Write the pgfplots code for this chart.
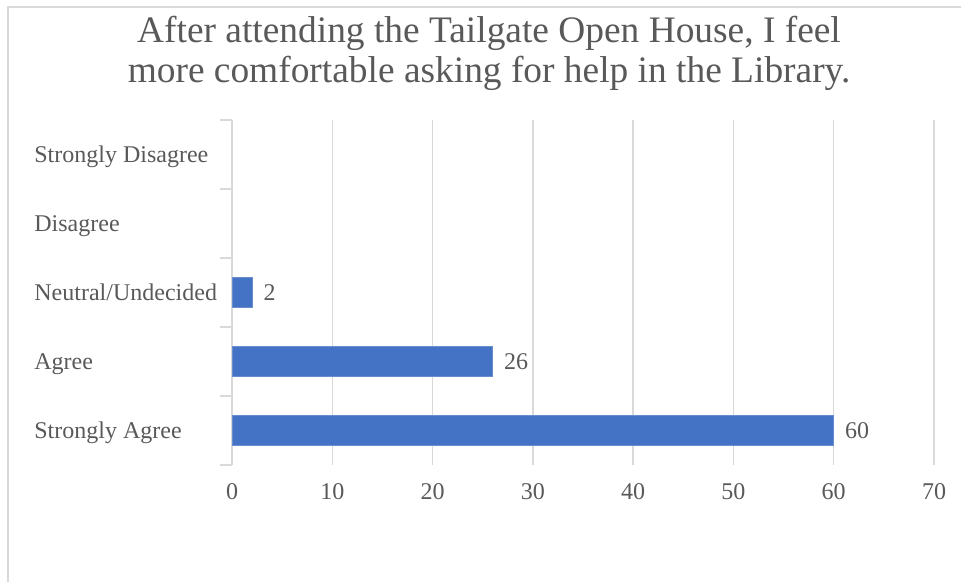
\documentclass[border=0pt]{standalone}
\usepackage{pgfplots}
\pgfplotsset{compat=1.18}
\usepackage{fontspec}
\setmainfont{Liberation Serif}
\definecolor{txt}{HTML}{595959}
\definecolor{gridc}{HTML}{D9D9D9}
\definecolor{barc}{HTML}{4472C4}
\begin{document}
\begin{tikzpicture}
\path[use as bounding box] (-116pt,-58.5pt) rectangle (364.5pt,232.5pt);
\draw[gridc, line width=0.6pt] (-112pt,-58.5pt) -- (-112pt,229pt) -- (364.5pt,229pt);
\node[anchor=base, text=txt, font=\fontsize{18.7}{22}\selectfont, inner sep=0pt] at (128.5pt,211pt) {After attending the Tailgate Open House, I feel};
\node[anchor=base, text=txt, font=\fontsize{18.7}{22}\selectfont, inner sep=0pt] at (128.5pt,191pt) {more comfortable asking for help in the Library.};
\begin{axis}[
  at={(0pt,0pt)}, anchor=south west,
  scale only axis, width=351pt, height=172.5pt,
  xbar, bar width=15pt, bar shift=0pt,
  xmin=0, xmax=70, ymin=-0.5, ymax=4.5,
  clip=false,
  separate axis lines,
  axis x line*=bottom, axis y line*=left,
  x axis line style={draw=none},
  y axis line style={draw=gridc, line width=0.75pt, -},
  xtick={0,10,...,70},
  xmajorgrids, grid style={gridc, line width=0.75pt},
  x tick style={draw=none},
  ytick={0,1,2,3,4},
  minor ytick={-0.5,0.5,1.5,2.5,3.5,4.5},
  yticklabels={Strongly Agree, Agree, Neutral/Undecided, Disagree, Strongly Disagree},
  ytick align=outside,
  major tick length=0pt,
  minor tick length=6pt,
  every major y tick/.append style={draw=none},
  every minor y tick/.append style={draw=gridc, line width=0.75pt},
  /pgf/number format/assume math mode=true,
  yticklabel style={anchor=base west, inner sep=0pt, xshift=-99pt, yshift=-4.2pt, text=txt, font=\fontsize{12}{14}\selectfont},
  xticklabel style={anchor=north, inner sep=0pt, yshift=-9pt, text=txt, font=\fontsize{12}{14}\selectfont},
  nodes near coords,
  every node near coord/.append style={anchor=west, inner sep=0pt, xshift=5.5pt, text=txt, font=\fontsize{12}{14}\selectfont},
]
\addplot[fill=barc, draw=barc!80!white, line width=0.5pt] coordinates {(60,0) (26,1) (2,2)};
\end{axis}
\end{tikzpicture}
\end{document}
